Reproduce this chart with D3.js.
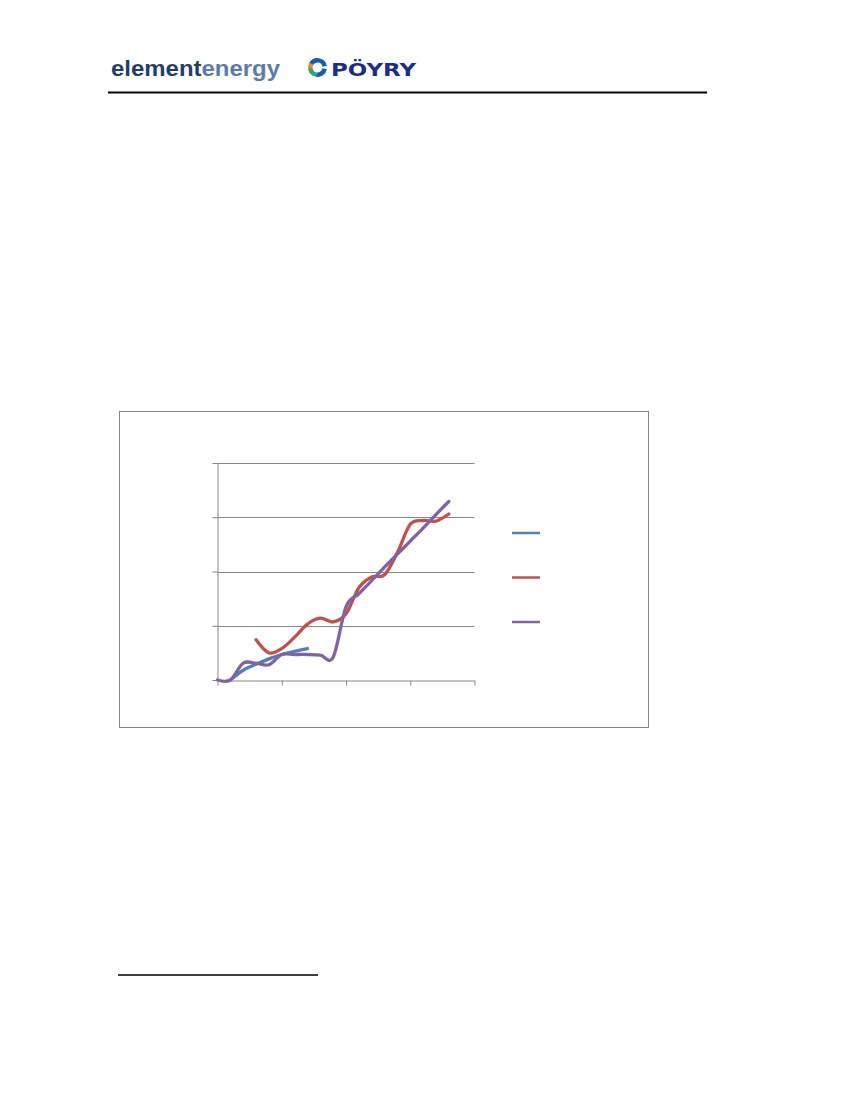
<!DOCTYPE html>
<html lang="en">
<head>
  <meta charset="UTF-8">
  <title>Chart</title>
  <style>
    body, html {
      margin: 0;
      padding: 0;
      background: #fff;
    }
    #svg {
      display: block;
    }
  </style>
</head>
<body>
  <svg id="svg" width="850" height="1100"></svg>
  <script src="https://cdn.jsdelivr.net/npm/d3@7"></script>
  <script>
    // x categories (index along the axis, ticks every 5)
    const xIndex = [0, 1, 2, 3, 4, 5, 6, 7, 8, 9, 10, 11, 12, 13, 14, 15, 16, 17, 18]
    const xTicks = [0, 5, 10, 15, 20]
    const yTicks = [0, 1, 2, 3, 4]

    // series values (null = no point)
    const blueValues = [null, 0, 0.18, 0.29, 0.39, 0.47, 0.53, 0.58, null, null, null, null, null, null, null, null, null, null, null]
    const redValues = [null, null, null, 0.74, 0.50, 0.58, 0.79, 1.03, 1.14, 1.07, 1.22, 1.70, 1.90, 1.94, 2.35, 2.87, 2.94, 2.93, 3.06]
    const purpleValues = [0, 0, 0.31, 0.31, 0.28, 0.47, 0.47, 0.47, 0.46, 0.42, 1.35, 1.59, 1.83, 2.08, 2.32, 2.56, 2.80, 3.05, 3.29]

    const seriesColors = ['#4F81BD', '#C0504D', '#8064A2']
    const seriesValues = [blueValues, redValues, purpleValues]

    const svg = d3.select('#svg')

    // ---- page header ----
    const header = svg.append('g')

    const ee = header.append('text')
      .attr('x', 111)
      .attr('y', 75.5)
      .attr('font-family', 'Liberation Sans Narrow, Liberation Sans, Arial, sans-serif')
      .attr('font-weight', 'bold')
      .attr('font-size', 22)
      .attr('textLength', 169)
      .attr('lengthAdjust', 'spacingAndGlyphs')
    ee.append('tspan').attr('fill', '#1F3F68').text('element')
    ee.append('tspan').attr('fill', '#5B7CA8').text('energy')

    // poyry mark: two curled arcs
    const markArc = d3.arc().innerRadius(5).outerRadius(9.5)
    const mark = header.append('g').attr('transform', 'translate(317.5, 67.5)')
    const markParts = [
      { s: -105, e: -60, c: '#F08A1E' },
      { s: -60, e: 80, c: '#1C5BA6' },
      { s: 100, e: 190, c: '#1C5BA6' },
      { s: 190, e: 262, c: '#2FA57C' }
    ]
    mark.selectAll('path')
      .data(markParts)
      .enter()
      .append('path')
      .attr('d', d => markArc({ startAngle: d.s * Math.PI / 180, endAngle: d.e * Math.PI / 180 }))
      .attr('fill', d => d.c)

    header.append('text')
      .attr('x', 331)
      .attr('y', 75.5)
      .attr('font-family', 'DejaVu Sans, sans-serif')
      .attr('font-weight', 'bold')
      .attr('font-size', 17)
      .attr('textLength', 85)
      .attr('lengthAdjust', 'spacingAndGlyphs')
      .attr('fill', '#1B2D84')
      .text('PÖYRY')

    header.append('line')
      .attr('x1', 108).attr('x2', 707)
      .attr('y1', 92.5).attr('y2', 92.5)
      .attr('stroke', '#000')
      .attr('stroke-width', 2)

    // footnote rule
    svg.append('line')
      .attr('x1', 118).attr('x2', 318)
      .attr('y1', 975).attr('y2', 975)
      .attr('stroke', '#000')
      .attr('stroke-width', 1.3)

    // ---- chart frame ----
    svg.append('rect')
      .attr('x', 119.5).attr('y', 411.5)
      .attr('width', 529).attr('height', 316)
      .attr('fill', '#fff')
      .attr('stroke', '#878787')
      .attr('stroke-width', 1)

    // plot area
    const plot = { left: 217.5, right: 474.5, top: 463, bottom: 680 }

    const x = d3.scaleLinear()
      .domain([0, 20])
      .range([plot.left, plot.right])

    const y = d3.scaleLinear()
      .domain([0, 4])
      .range([plot.bottom, plot.top])

    // horizontal gridlines
    svg.append('g')
      .selectAll('line')
      .data(yTicks.slice(1))
      .enter()
      .append('line')
      .attr('x1', plot.left).attr('x2', plot.right)
      .attr('y1', d => Math.round(y(d)) + 0.5)
      .attr('y2', d => Math.round(y(d)) + 0.5)
      .attr('stroke', '#868686')

    // y axis, ticks only
    const yAxis = svg.append('g')
      .attr('transform', `translate(${plot.left}, 0)`)
      .call(d3.axisLeft(y).tickValues(yTicks).tickSize(5).tickSizeOuter(0).tickFormat(''))
    yAxis.selectAll('path, line').attr('stroke', '#868686')

    // x axis, ticks only
    const xAxis = svg.append('g')
      .attr('transform', `translate(0, ${plot.bottom + 0.5})`)
      .call(d3.axisBottom(x).tickValues(xTicks).tickSize(5).tickSizeOuter(0).tickFormat(''))
    xAxis.selectAll('path, line').attr('stroke', '#868686')

    // smoothed lines like excel
    const lineGen = d3.line()
      .defined(d => d.v !== null)
      .x(d => x(d.i))
      .y(d => y(d.v))
      .curve(d3.curveCardinal.tension(0))

    svg.append('g')
      .selectAll('path')
      .data(seriesValues)
      .enter()
      .append('path')
      .attr('d', vals => lineGen(vals.map((v, k) => ({ i: xIndex[k], v: v }))))
      .attr('fill', 'none')
      .attr('stroke', (d, i) => seriesColors[i])
      .attr('stroke-width', 3.3)
      .attr('stroke-linecap', 'round')
      .attr('stroke-linejoin', 'round')

    // legend keys (no labels in the picture)
    svg.append('g')
      .selectAll('line')
      .data(seriesColors)
      .enter()
      .append('line')
      .attr('x1', 512).attr('x2', 540)
      .attr('y1', (d, i) => 533 + i * 44.5)
      .attr('y2', (d, i) => 533 + i * 44.5)
      .attr('stroke', d => d)
      .attr('stroke-width', 2.5)
  </script>
</body>
</html>
